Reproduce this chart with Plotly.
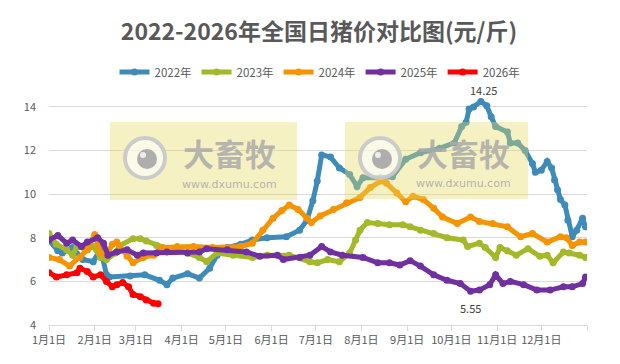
import plotly.graph_objects as go
import pandas as pd

BASE_YEAR = 2001  # common non-leap year used only to place month/day on one axis

# ---------------- data (month-day, price 元/斤) ----------------
dates_2022 = ["01-01", "01-07", "01-10", "01-17", "01-24", "01-31", "02-05", "02-09", "02-11", "02-25",
              "03-07", "03-17", "03-22", "03-26", "04-05", "04-13", "04-20", "04-25", "05-02", "05-11",
              "05-19", "05-29", "06-11", "06-20", "06-25", "06-29", "07-02", "07-05", "07-11", "07-17",
              "07-24", "07-29", "08-02", "08-14", "08-22", "08-31", "09-10", "09-23", "10-03", "10-08",
              "10-11", "10-13", "10-16", "10-21", "10-25", "10-28", "10-31", "11-08", "11-10", "11-15",
              "11-20", "11-25", "11-27", "12-01", "12-05", "12-08", "12-10", "12-12", "12-14", "12-17",
              "12-19", "12-22", "12-25", "12-29", "12-31"]
price_2022 = [7.9, 7.4, 7.3, 7.55, 7.0, 6.9, 7.5, 6.3, 6.2, 6.25,
              6.3, 6.05, 5.85, 6.15, 6.35, 6.15, 6.6, 7.2, 7.55, 7.7,
              7.9, 8.0, 8.05, 8.35, 8.8, 9.7, 10.6, 11.8, 11.7, 11.2,
              10.9, 10.35, 10.75, 10.75, 10.8, 11.6, 11.9, 12.1, 12.35, 13.1,
              13.3, 13.9, 14.0, 14.25, 14.05, 13.55, 13.1, 12.85, 12.35, 12.35,
              12.0, 11.4, 11.0, 11.1, 11.5, 11.2, 10.65, 10.2, 9.75, 9.5,
              8.8, 8.05, 8.35, 8.9, 8.5]

dates_2023 = ["01-01", "01-06", "01-13", "01-17", "01-20", "01-27", "01-31", "02-05", "02-09", "02-15",
              "02-18", "02-27", "03-04", "03-08", "03-15", "03-22", "04-05", "04-13", "04-18", "04-25",
              "05-06", "05-19", "05-29", "06-13", "06-27", "07-02", "07-09", "07-17", "07-24", "07-28",
              "07-31", "08-05", "08-12", "08-20", "08-29", "09-03", "09-10", "09-19", "09-28", "10-09",
              "10-12", "10-20", "10-24", "10-31", "11-03", "11-08", "11-14", "11-22", "11-30", "12-05",
              "12-09", "12-16", "12-20", "12-27", "12-31"]
price_2023 = [8.2, 7.7, 7.45, 7.2, 7.6, 7.45, 7.6, 7.1, 7.0, 7.3,
              7.65, 7.95, 7.95, 7.85, 7.65, 7.5, 7.3, 7.1, 6.9, 7.3,
              7.2, 7.1, 7.2, 7.2, 6.9, 6.85, 7.0, 6.9, 7.3, 7.9,
              8.35, 8.7, 8.65, 8.6, 8.6, 8.5, 8.35, 8.2, 8.0, 7.9,
              7.6, 7.75, 7.55, 7.1, 7.55, 7.4, 7.2, 7.5, 7.15, 7.2,
              6.85, 7.35, 7.3, 7.2, 7.1]

dates_2024 = ["01-01", "01-08", "01-15", "01-22", "01-27", "02-01", "02-05", "02-09", "02-13", "02-16",
              "02-23", "02-27", "03-06", "03-13", "03-19", "03-29", "04-09", "04-22", "05-11", "05-19",
              "05-26", "06-02", "06-08", "06-13", "06-19", "06-25", "06-28", "07-04", "07-13", "07-22",
              "07-31", "08-07", "08-14", "08-18", "08-25", "08-31", "09-05", "09-12", "09-19", "09-25",
              "10-05", "10-14", "10-20", "10-29", "11-08", "11-17", "11-25", "12-05", "12-14", "12-18",
              "12-22", "12-27", "12-31"]
price_2024 = [7.1, 7.0, 6.7, 7.1, 7.45, 8.15, 7.3, 7.2, 7.7, 7.8,
              7.15, 6.85, 7.1, 7.2, 7.55, 7.6, 7.6, 7.55, 7.6, 7.75,
              8.35, 8.9, 9.25, 9.5, 9.3, 8.9, 8.7, 9.0, 9.3, 9.6,
              9.85, 10.3, 10.6, 10.5, 10.05, 9.65, 9.9, 9.75, 9.35, 8.95,
              8.65, 8.95, 8.75, 8.65, 8.5, 8.05, 8.2, 7.8, 8.05, 8.0,
              7.65, 7.8, 7.8]

dates_2025 = ["01-01", "01-07", "01-13", "01-17", "01-23", "01-27", "02-03", "02-07", "02-10", "02-16",
              "02-23", "03-02", "03-06", "03-15", "03-22", "04-05", "04-13", "04-18", "05-02", "05-15",
              "05-24", "06-05", "06-09", "06-20", "06-27", "07-05", "07-11", "07-19", "08-02", "08-12",
              "08-20", "08-27", "09-03", "09-10", "09-19", "09-28", "10-07", "10-14", "10-20", "10-27",
              "10-31", "11-05", "11-10", "11-19", "11-28", "12-07", "12-16", "12-22", "12-29", "12-31"]
price_2025 = [7.9, 8.1, 7.75, 7.9, 7.6, 7.8, 8.0, 7.75, 7.2, 7.35,
              7.45, 7.2, 7.3, 7.3, 7.35, 7.3, 7.35, 7.5, 7.45, 7.35,
              7.15, 7.2, 7.0, 7.1, 7.2, 7.6, 7.35, 7.2, 7.1, 6.85,
              6.85, 6.75, 6.95, 6.7, 6.3, 6.05, 5.9, 5.55, 5.6, 5.85,
              6.3, 5.9, 6.0, 5.85, 5.6, 5.6, 5.75, 5.75, 5.9, 6.2]

dates_2026 = ["01-01", "01-06", "01-13", "01-20", "01-22", "01-27", "01-31", "02-05", "02-09", "02-13",
              "02-16", "02-20", "02-24", "02-27", "03-04", "03-08", "03-13", "03-16"]
price_2026 = [6.4, 6.2, 6.3, 6.4, 6.6, 6.45, 6.2, 6.3, 6.0, 5.75,
              5.85, 5.95, 5.75, 5.4, 5.3, 5.15, 5.0, 4.98]

series_names = ["2022年", "2023年", "2024年", "2025年", "2026年"]
series_colors = ["#3E8BBA", "#A5B82A", "#F59300", "#7030A0", "#FF0000"]

month_starts = ["01-01", "02-01", "03-01", "04-01", "05-01", "06-01",
                "07-01", "08-01", "09-01", "10-01", "11-01", "12-01"]
month_labels = ["1月1日", "2月1日", "3月1日", "4月1日", "5月1日", "6月1日",
                "7月1日", "8月1日", "9月1日", "10月1日", "11月1日", "12月1日"]
y_ticks = [4, 6, 8, 10, 12, 14]

title_text = "2022-2026年全国日猪价对比图(元/斤)"


def to_dates(md_list):
    return pd.to_datetime([f"{BASE_YEAR}-{md}" for md in md_list])


all_dates = [dates_2022, dates_2023, dates_2024, dates_2025, dates_2026]
all_prices = [price_2022, price_2023, price_2024, price_2025, price_2026]

FONT = "Noto Sans CJK SC"
GREY = "#595959"

# page body has an 8px default margin; figure is sized so the page never scrolls
OFF = 8
W, H = 604, 348
# plot area in page pixels (reference picture)
L, R, T, B = 49, 587, 96, 325

fig = go.Figure()
for name, color, d, p in zip(series_names, series_colors, all_dates, all_prices):
    fig.add_trace(go.Scatter(
        x=to_dates(d), y=p, name=name, mode="lines+markers",
        line=dict(color=color, width=5),
        marker=dict(color=color, size=7),
    ))

# data labels: max of 2022, min of 2025
i_max = max(range(len(price_2022)), key=lambda i: price_2022[i])
i_min = min(range(len(price_2025)), key=lambda i: price_2025[i])
annotations = [
    dict(x=to_dates([dates_2022[i_max]])[0], y=price_2022[i_max], xref="x", yref="y",
         text=f"{price_2022[i_max]:.2f}", showarrow=False, yshift=11, xshift=3,
         xanchor="center", yanchor="middle",
         font=dict(family=FONT, size=11, color="#404040")),
    dict(x=to_dates([dates_2025[i_min]])[0], y=price_2025[i_min], xref="x", yref="y",
         text=f"{price_2025[i_min]:.2f}", showarrow=False, yshift=-17, xshift=0,
         xanchor="center", yanchor="middle",
         font=dict(family=FONT, size=11, color="#404040")),
]


# ---------------- watermark (decoration) ----------------
def px(x):
    return (x - L) / (R - L)


def py(y):
    return (B - y) / (B - T)


shapes = []
for (x0, y0, x1, y1, cx, cy, tx, ty1, ty2) in [(110, 122, 297, 200, 145, 158, 229, 152, 184),
                                               (345, 122, 528, 199, 380, 158, 463, 152, 183)]:
    shapes.append(dict(type="rect", xref="paper", yref="paper", layer="above",
                       x0=px(x0), x1=px(x1), y0=py(y1), y1=py(y0),
                       fillcolor="rgba(232,218,98,0.38)", line=dict(width=0)))
    r = 20
    shapes.append(dict(type="circle", xref="paper", yref="paper", layer="above",
                       x0=px(cx - r), x1=px(cx + r), y0=py(cy + r), y1=py(cy - r),
                       fillcolor="rgba(255,255,255,0.6)",
                       line=dict(color="rgba(200,200,200,0.95)", width=4)))
    r2 = 10
    c2x, c2y = cx + 2, cy + 1
    shapes.append(dict(type="circle", xref="paper", yref="paper", layer="above",
                       x0=px(c2x - r2), x1=px(c2x + r2), y0=py(c2y + r2), y1=py(c2y - r2),
                       fillcolor="rgba(165,165,165,0.9)", line=dict(width=0)))
    r3 = 3
    shapes.append(dict(type="circle", xref="paper", yref="paper", layer="above",
                       x0=px(c2x - 4 - r3), x1=px(c2x - 4 + r3), y0=py(c2y - 4 + r3), y1=py(c2y - 4 - r3),
                       fillcolor="rgba(240,240,240,0.95)", line=dict(width=0)))
    annotations.append(dict(xref="paper", yref="paper", x=px(tx), y=py(ty1),
                            xanchor="center", yanchor="middle",
                            text="<b>大畜牧</b>", showarrow=False,
                            font=dict(family=FONT, size=31, color="rgba(170,170,170,0.85)")))
    annotations.append(dict(xref="paper", yref="paper", x=px(tx), y=py(ty2),
                            xanchor="center", yanchor="middle",
                            text="www.dxumu.com", showarrow=False,
                            font=dict(family="DejaVu Sans", size=11, color="rgba(170,170,170,0.9)")))

fig.update_layout(
    width=W, height=H,
    margin=dict(l=L - OFF, r=W - (R - OFF), t=T - OFF, b=H - (B - OFF), autoexpand=False),
    paper_bgcolor="white", plot_bgcolor="white",
    title=dict(text=f"<b>{title_text}</b>", x=(319 - OFF) / W, xanchor="center",
               y=1 - (32 - OFF) / H, yanchor="middle",
               font=dict(family=FONT, size=23, color=GREY)),
    legend=dict(orientation="h", x=px(320), xanchor="center", y=py(72), yanchor="middle",
                font=dict(family=FONT, size=11.5, color=GREY), itemwidth=30,
                bgcolor="rgba(0,0,0,0)"),
    showlegend=True,
    shapes=shapes,
    annotations=annotations,
)

fig.update_xaxes(
    range=[pd.Timestamp(f"{BASE_YEAR}-01-01"), pd.Timestamp(f"{BASE_YEAR + 1}-01-01")],
    tickvals=list(to_dates(month_starts)) + [pd.Timestamp(f"{BASE_YEAR + 1}-01-01")],
    ticktext=month_labels + [""],
    ticks="outside", ticklen=5, tickcolor="#D9D9D9",
    showline=True, linecolor="#D9D9D9", linewidth=1,
    showgrid=False, zeroline=False,
    tickfont=dict(family=FONT, size=11, color=GREY),
)
fig.update_yaxes(
    range=[4, 14.5], tickvals=y_ticks,
    showgrid=True, gridcolor="#D9D9D9", gridwidth=1,
    showline=False, zeroline=False, ticks="",
    ticklabelstandoff=12,
    tickfont=dict(family=FONT, size=11, color=GREY),
)

fig.write_html("out.html")
